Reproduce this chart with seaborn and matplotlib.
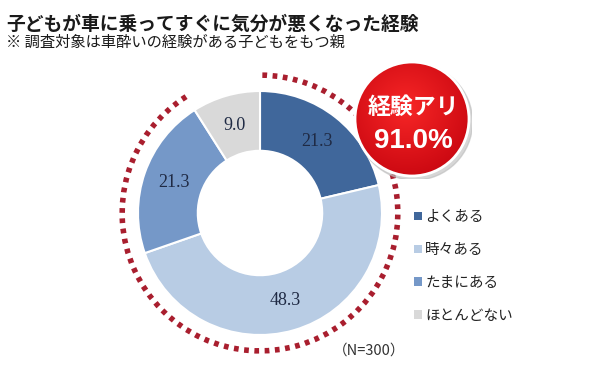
import numpy as np
import matplotlib.pyplot as plt
import matplotlib.patches as mpatches
import seaborn as sns

# data
categories = ['よくある', '時々ある', 'たまにある', 'ほとんどない']
values = [21.3, 48.3, 21.3, 9.0]
colors = ['#40679B', '#B8CCE4', '#7598C8', '#D9D9D9']
experienced_pct = 91.0
n_label = '（N=300）'
title = '子どもが車に乗ってすぐに気分が悪くなった経験'
subtitle = '※ 調査対象は車酔いの経験がある子どもをもつ親'

sns.set_theme(style='white')
plt.rcParams['font.family'] = ['Noto Sans CJK JP', 'DejaVu Sans']

W, H = 600, 368
fig = plt.figure(figsize=(6, 3.68), dpi=100)
fig.patch.set_facecolor('white')

# donut axes: centre (260, 213) px, radius 122 px, limits +-1.25
cx, cy, r = 260, 213, 122
half = 1.25 * r
ax = fig.add_axes([(cx - half) / W, (H - cy - half) / H, 2 * half / W, 2 * half / H])
wedges, texts = ax.pie(values, labels=[f'{v:.1f}' for v in values], colors=colors,
                       startangle=90, counterclock=False, labeldistance=0.75,
                       wedgeprops=dict(width=0.49, edgecolor='white', linewidth=1.5),
                       textprops=dict(fontsize=13, color='#1F2A44',
                                      family=['Liberation Serif']))
for t in texts:
    t.set_ha('center')
    t.set_va('center')
ax.set_xlim(-1.25, 1.25)
ax.set_ylim(-1.25, 1.25)
ax.set_aspect('equal')
ax.axis('off')

# dotted arc around the "experienced" share
gap = 360 * values[-1] / sum(values)
arc = mpatches.Arc((0, 0), 2 * 1.13, 2 * 1.13, theta1=90 + gap, theta2=450,
                   color='#A91E2E', lw=4, linestyle=(0, (0.85, 1.0)))
ax.add_patch(arc)

# red badge
bx, by, br = 412, 119, 60
bax = fig.add_axes([(bx - br) / W, (H - by - br) / H, 2 * br / W, 2 * br / H])
bax.set_xlim(-1, 1)
bax.set_ylim(-1, 1)
bax.axis('off')
shadow = mpatches.Circle((0.04, -0.05), 0.97, color='#BBBBBB', alpha=0.6)
bax.add_patch(shadow)
yy, xx = np.mgrid[-1:1:200j, -1:1:200j]
dist = np.sqrt((xx + 0.1) ** 2 + (yy - 0.2) ** 2)
grad = np.clip(dist / 1.3, 0, 1)
c0 = np.array([0.97, 0.15, 0.15])
c1 = np.array([0.78, 0.02, 0.06])
img = c0 + (c1 - c0) * grad[..., None]
im = bax.imshow(img, extent=[-1, 1, -1, 1], origin='lower', zorder=2)
clip = mpatches.Circle((0, 0), 0.95, transform=bax.transData)
im.set_clip_path(clip)
bax.add_patch(mpatches.Circle((0, 0), 0.95, fill=False, edgecolor='white', lw=2, zorder=3))
bax.text(0.02, 0.2, '経験アリ', ha='center', va='center', fontsize=16.5,
         fontweight='bold', color='white', zorder=4)
bax.text(0.02, -0.36, f'{experienced_pct:.1f}%', ha='center', va='center', fontsize=20,
         fontweight='bold', color='white', family=['Liberation Sans'], zorder=4)

# legend
handles = [mpatches.Patch(facecolor=c, edgecolor='none') for c in colors]
fig.legend(handles, categories, loc='upper left', bbox_to_anchor=(401 / W, 1 - 197 / H),
           frameon=False, fontsize=10.5, handlelength=0.55, handleheight=0.55,
           handletextpad=0.2, labelspacing=1.3, labelcolor='#222222')

fig.text(369 / W, 1 - 351 / H, n_label, ha='center', va='center', fontsize=10.5,
         color='#333333')

fig.text(6 / W, 1 - 24 / H, title, ha='left', va='center', fontsize=13.5,
         fontweight='bold', color='#1A1A1A')
fig.text(6 / W, 1 - 42 / H, subtitle, ha='left', va='center', fontsize=11,
         color='#1A1A1A')

fig.savefig('out.png', dpi=100, facecolor='white')
